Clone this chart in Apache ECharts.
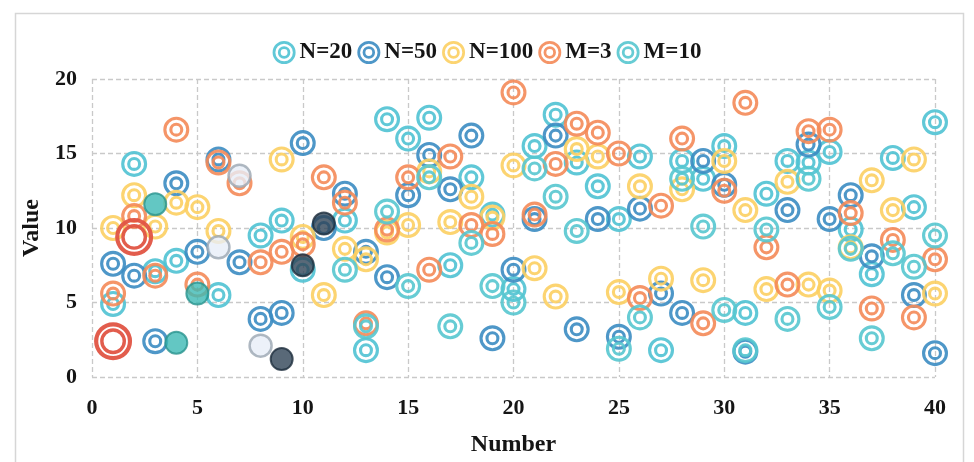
<!DOCTYPE html>
<html>
<head>
<meta charset="utf-8">
<script src="https://cdn.jsdelivr.net/npm/echarts@6/dist/echarts.min.js"></script>
<style>
  html, body { margin: 0; padding: 0; background: #ffffff; }
  #chart { width: 974px; height: 462px; }
</style>
</head>
<body>
<div id="chart"></div>
<script>
// ---- data ----
const numbers = [1,2,3,4,5,6,7,8,9,10,11,12,13,14,15,16,17,18,19,20,21,22,23,24,25,26,27,28,29,30,31,32,33,34,35,36,37,38,39,40];
const seriesNames = ['N=20', 'N=50', 'N=100', 'M=3', 'M=10'];
const n20  = [4.9,14.3,7.1,7.8,null,5.5,null,9.5,10.5,7.2,null,10.5,1.8,17.3,16.0,17.4,7.5,13.4,10.9,5.9,15.5,17.6,14.4,12.8,10.6,14.8,1.8,14.5,13.3,15.5,4.3,12.3,14.5,14.4,15.1,9.9,6.9,14.7,11.4,17.1];
const n50  = [7.6,6.8,2.4,13.0,8.4,14.6,7.7,3.9,4.3,15.7,10.0,12.3,8.4,6.7,12.2,14.9,12.6,16.2,2.6,7.2,10.6,16.2,3.2,10.6,2.7,11.3,5.6,4.3,14.5,12.9,1.7,null,11.2,15.6,10.6,12.2,8.1,null,5.5,1.6];
const n100 = [10.0,12.2,10.1,11.7,11.4,9.8,null,null,14.6,9.4,5.5,8.6,7.9,9.7,10.2,13.8,10.4,12.1,10.7,14.2,7.3,5.4,15.3,14.8,5.7,12.8,6.6,12.6,6.5,14.5,11.2,5.9,13.1,6.2,5.8,8.7,13.2,11.2,14.6,5.6];
const m3   = [5.6,10.8,6.8,16.6,6.2,14.4,13.0,7.7,8.4,8.9,13.4,11.7,3.6,9.9,13.4,7.2,14.8,10.2,9.6,19.1,10.9,14.3,17.0,16.4,15.0,5.3,11.5,16.0,3.6,12.5,18.4,8.7,6.2,16.5,16.6,11.0,4.6,9.2,4.0,7.9];
const m10  = [null,null,null,null,null,null,null,null,null,null,null,7.2,3.4,11.1,6.1,13.4,3.4,9.0,6.1,5.0,14.0,12.1,9.8,null,1.9,4.0,null,13.3,10.1,4.5,1.8,9.9,3.9,13.3,4.7,8.6,2.6,8.3,7.4,9.5];

// highlighted points
const redX  = [1, 2];        const redY  = [2.4, 9.4];
const tealX = [3, 4, 5];     const tealY = [11.6, 2.3, 5.6];
const grayX = [6, 7, 8];     const grayY = [8.7, 13.5, 2.1];
const navyX = [9, 10, 11];   const navyY = [1.2, 7.5, 10.3];

const xTicks = [0, 5, 10, 15, 20, 25, 30, 35, 40];
const yTicks = [0, 5, 10, 15, 20];

// ---- helpers ----
function circ(r, cw) {
  const s = cw ? 1 : 0;
  return `M${50 - r},50 A${r},${r} 0 1,${s} ${50 + r},50 A${r},${r} 0 1,${s} ${50 - r},50 Z `;
}
function ringPath(r1, r2, r3, r4) {
  return 'path://' + circ(r1, true) + circ(r2, false) + circ(r3, true) + circ(r4, false);
}
const RING = ringPath(50, 38, 27, 15);
const BIGRING = ringPath(50, 39, 34, 25);

function pairs(xArr, yArr) {
  const out = [];
  for (let i = 0; i < xArr.length; i++) {
    if (yArr[i] !== null && yArr[i] !== undefined) out.push([xArr[i], yArr[i]]);
  }
  return out;
}

const colors = {
  'N=20': '#4fc2d3',
  'N=50': '#3b8cc2',
  'N=100': '#fccf62',
  'M=3': '#f48a58',
  'M=10': '#56c6cf'
};
const values = { 'N=20': n20, 'N=50': n50, 'N=100': n100, 'M=3': m3, 'M=10': m10 };

const FONT = '"Liberation Serif", "Times New Roman", serif';

const ringSeries = seriesNames.map(name => ({
  name: name,
  type: 'scatter',
  symbol: RING,
  symbolSize: 26,
  data: pairs(numbers, values[name]),
  itemStyle: { color: colors[name], opacity: 0.9 },
  emphasis: { disabled: true },
  z: 2
}));

const extraSeries = [
  { name: 'hlRed', type: 'scatter', symbol: BIGRING, symbolSize: 38,
    data: pairs(redX, redY), itemStyle: { color: '#e05443', opacity: 0.95 }, z: 4 },
  { name: 'hlTeal', type: 'scatter', symbol: 'circle', symbolSize: 22,
    data: pairs(tealX, tealY), itemStyle: { color: '#3cb9b4', borderColor: '#2b938f', borderWidth: 2 }, z: 4 },
  { name: 'hlGray', type: 'scatter', symbol: 'circle', symbolSize: 22,
    data: pairs(grayX, grayY), itemStyle: { color: '#e7eef7', borderColor: '#9ba6b1', borderWidth: 2.5 }, z: 4 },
  { name: 'hlNavy', type: 'scatter', symbol: 'circle', symbolSize: 22,
    data: pairs(navyX, navyY), itemStyle: { color: '#2f4456', borderColor: '#1f2f3e', borderWidth: 2 }, z: 4 }
];

const dashed = { show: true, lineStyle: { color: '#c9c9c9', type: [5, 3], width: 1.3 } };

const chart = echarts.init(document.getElementById('chart'), null, { renderer: 'canvas' });
chart.setOption({
  animation: false,
  backgroundColor: '#ffffff',
  graphic: [{
    type: 'rect', left: 13, top: 11,
    shape: { width: 948, height: 470 },
    style: { fill: 'none', stroke: '#d6d6d6', lineWidth: 1.5 },
    silent: true, z: -10
  }],
  legend: {
    top: 36,
    left: 'center',
    itemWidth: 23,
    itemHeight: 23,
    itemGap: 5,
    data: seriesNames.map(n => ({ name: n, icon: RING })),
    textStyle: { fontFamily: FONT, fontWeight: 'bold', fontSize: 23, color: '#151515', padding: [0, 0, 0, -1] }
  },
  grid: { left: 92, right: 39, top: 79, bottom: 80, containLabel: false },
  xAxis: {
    type: 'value', min: 0, max: 40, interval: 5,
    name: 'Number', nameLocation: 'middle', nameGap: 56,
    nameTextStyle: { fontFamily: FONT, fontWeight: 'bold', fontSize: 24, color: '#151515' },
    axisLine: { show: false }, axisTick: { show: false },
    axisLabel: { fontFamily: FONT, fontWeight: 'bold', fontSize: 22, color: '#151515', margin: 20,
      formatter: v => (xTicks.indexOf(v) >= 0 ? String(v) : '') },
    splitLine: dashed
  },
  yAxis: {
    type: 'value', min: 0, max: 20, interval: 5,
    name: 'Value', nameLocation: 'middle', nameGap: 39,
    nameTextStyle: { fontFamily: FONT, fontWeight: 'bold', fontSize: 24, color: '#151515' },
    axisLine: { show: false }, axisTick: { show: false },
    axisLabel: { fontFamily: FONT, fontWeight: 'bold', fontSize: 22, color: '#151515', margin: 15,
      formatter: v => (yTicks.indexOf(v) >= 0 ? String(v) : '') },
    splitLine: dashed
  },
  series: ringSeries.concat(extraSeries)
});
</script>
</body>
</html>
